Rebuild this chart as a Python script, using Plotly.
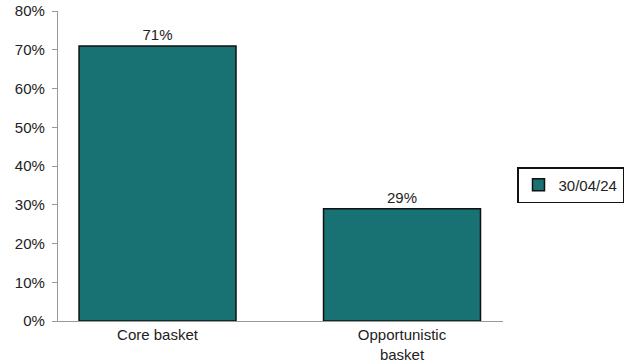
import plotly.graph_objects as go

categories = ["Core basket", "Opportunistic<br>basket"]
values = [71, 29]
labels = ["71%", "29%"]
series_name = "30/04/24"
y_ticks = [0, 10, 20, 30, 40, 50, 60, 70, 80]
y_tick_text = [f"{v}%" for v in y_ticks]

fig = go.Figure()
fig.add_trace(go.Bar(
    x=[0, 1], y=values, name=series_name,
    text=labels, textposition="outside",
    textfont=dict(size=15, color="#222222"),
    marker=dict(color="#187172", line=dict(color="#111111", width=1.5)),
    width=0.642, showlegend=True, cliponaxis=False,
))
fig.update_layout(
    width=626, height=362,
    margin=dict(l=58, r=123, t=11, b=41, autoexpand=False),
    paper_bgcolor="white", plot_bgcolor="white",
    font=dict(family="Liberation Sans, Arial, sans-serif", size=15, color="#222222"),
    showlegend=True,
    legend=dict(xref="container", yref="container", x=517/626, y=(362-185)/362,
                xanchor="left", yanchor="middle",
                bordercolor="#111111", borderwidth=1.5,
                font=dict(size=15, color="#222222")),
    xaxis=dict(range=[-0.407, 1.413], tickvals=[0, 1], ticktext=categories,
               showline=True, linecolor="#999999", linewidth=1.2,
               ticks="", showgrid=False, zeroline=False, ticklabelstandoff=0,
               tickfont=dict(size=15), automargin=False),
    yaxis=dict(range=[0, 80], tickvals=y_ticks, ticktext=y_tick_text,
               showline=True, linecolor="#999999", linewidth=1.2,
               ticks="outside", ticklen=5, tickcolor="#999999",
               showgrid=False, zeroline=False, automargin=False,
               tickfont=dict(size=15), ticklabelstandoff=4),
)
fig.write_html("out.html")
